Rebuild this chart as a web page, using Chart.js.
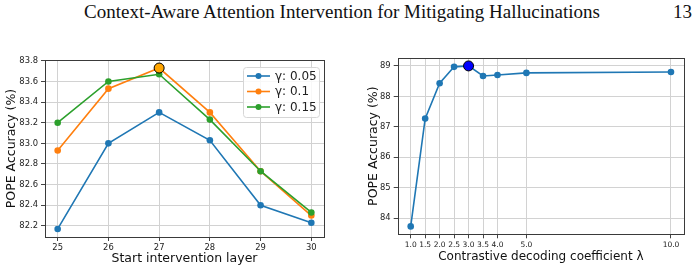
<!DOCTYPE html>
<html>
<head>
<meta charset="utf-8">
<script src="https://cdn.jsdelivr.net/npm/chart.js@4.4.0/dist/chart.umd.min.js"></script>
<style>
    html, body { margin: 0; padding: 0; background: #fff; }
    body { width: 697px; height: 271px; position: relative; overflow: hidden; }
    .header { position: absolute; top: 1px; font-family: "Liberation Serif", serif; font-size: 19px; color: #111; white-space: nowrap; }
    #title { left: 84px; }
    #page { left: 673px; }
    .plot { position: absolute; top: 45px; height: 226px; }
    #left_wrap { left: 0; width: 345px; }
    #right_wrap { left: 350px; width: 347px; }
</style>
</head>
<body>
<div class="header" id="title">Context-Aware Attention Intervention for Mitigating Hallucinations</div>
<div class="header" id="page">13</div>
<div class="plot" id="left_wrap"><canvas id="left_chart"></canvas></div>
<div class="plot" id="right_wrap"><canvas id="right_chart"></canvas></div>
<script>
// Left panel: start intervention layer vs accuracy
const layers = [25, 26, 27, 28, 29, 30];
const gamma005 = [82.17, 83.00, 83.30, 83.03, 82.40, 82.23];
const gamma010 = [82.93, 83.53, 83.73, 83.30, 82.73, 82.30];
const gamma015 = [83.20, 83.60, 83.67, 83.23, 82.73, 82.33];
const layerTicks = [25, 26, 27, 28, 29, 30];
const accTicksLeft = [82.2, 82.4, 82.6, 82.8, 83.0, 83.2, 83.4, 83.6, 83.8];

// Right panel: contrastive decoding coefficient vs accuracy
const lambdas = [1.0, 1.5, 2.0, 2.5, 3.0, 3.5, 4.0, 5.0, 10.0];
const lambdaAcc = [83.73, 87.27, 88.43, 88.97, 89.00, 88.67, 88.70, 88.77, 88.80];
const lambdaTicks = [1.0, 1.5, 2.0, 2.5, 3.0, 3.5, 4.0, 5.0, 10.0];
const accTicksRight = [84, 85, 86, 87, 88, 89];

const BLUE = '#1f77b4', ORANGE = '#ff7f0e', GREEN = '#2ca02c';
const FONT = '"DejaVu Sans", sans-serif';
const GRID = '#d2d2d2';

const pts = (xs, ys) => xs.map((x, i) => ({ x, y: ys[i] }));
const argmax = arr => arr.indexOf(Math.max(...arr));

// full box around the plot area, like matplotlib spines
const frame = {
    id: 'frame',
    afterDraw(chart) {
        const { ctx, chartArea: a } = chart;
        ctx.save();
        ctx.strokeStyle = '#3a3a3a';
        ctx.lineWidth = 1;
        ctx.strokeRect(Math.round(a.left) + 0.5, Math.round(a.top) + 0.5,
            Math.round(a.right - a.left), Math.round(a.bottom - a.top));
        ctx.restore();
    }
};

// legend box with line + marker, upper right
const boxLegend = {
    id: 'boxLegend',
    afterDraw(chart, args, opts) {
        if (!opts.show) return;
        const { ctx } = chart;
        const sets = chart.data.datasets.filter(d => d.inLegend);
        ctx.save();
        ctx.font = '12px ' + FONT;
        const x = opts.x, y = opts.y, w = opts.w, h = opts.h;
        ctx.fillStyle = 'rgba(255,255,255,0.85)';
        ctx.strokeStyle = '#d6d6d6';
        ctx.lineWidth = 1;
        ctx.beginPath();
        ctx.roundRect(x + 0.5, y + 0.5, w, h, 3);
        ctx.fill();
        ctx.stroke();
        sets.forEach((d, i) => {
            const cy = y + 9 + i * 15.5;
            ctx.strokeStyle = d.borderColor;
            ctx.lineWidth = 1.6;
            ctx.beginPath();
            ctx.moveTo(x + 4, cy);
            ctx.lineTo(x + 27, cy);
            ctx.stroke();
            ctx.fillStyle = d.borderColor;
            ctx.beginPath();
            ctx.arc(x + 15.5, cy, 3, 0, Math.PI * 2);
            ctx.fill();
            ctx.fillStyle = '#222';
            ctx.textBaseline = 'middle';
            ctx.fillText(d.label, x + 32, cy + 0.5);
        });
        ctx.restore();
    }
};

function line(label, xs, ys, color, order) {
    return {
        label, data: pts(xs, ys), borderColor: color, backgroundColor: color,
        borderWidth: 1.6, pointRadius: 3.3, pointHoverRadius: 3.3, pointBorderWidth: 0,
        order, inLegend: true
    };
}

function marker(x, y, fill) {
    return {
        data: [{ x, y }], type: 'scatter', showLine: false,
        backgroundColor: fill, borderColor: '#000', borderWidth: 1,
        pointRadius: 5, pointHoverRadius: 5, order: 0, inLegend: false
    };
}

function axes(o) {
    return {
        x: {
            type: 'linear', min: o.xmin, max: o.xmax,
            afterBuildTicks: s => { s.ticks = o.xTicks.map(v => ({ value: v })); },
            afterFit: s => { s.height = o.xh; },
            ticks: { font: { family: FONT, size: o.tickSize }, color: '#222', padding: 2, maxRotation: 0, autoSkip: false,
                callback: o.xFmt },
            grid: { color: GRID, lineWidth: 1, tickLength: 4, tickColor: '#444' },
            border: { display: false },
            title: { display: true, text: o.xLabel, font: { family: FONT, size: o.xLabelSize }, color: '#111', padding: 0 }
        },
        y: {
            type: 'linear', min: o.ymin, max: o.ymax,
            afterBuildTicks: s => { s.ticks = o.yTicks.map(v => ({ value: v })); },
            afterFit: s => { s.width = o.yw; },
            ticks: { font: { family: FONT, size: 8.4 }, color: '#222', padding: 3, callback: o.yFmt },
            grid: { color: GRID, lineWidth: 1, tickLength: 4, tickColor: '#444' },
            border: { display: false },
            title: { display: true, text: 'POPE Accuracy (%)', font: { family: FONT, size: 12.5 }, color: '#111', padding: { top: 2, bottom: 0 } }
        }
    };
}

const common = {
    responsive: true, maintainAspectRatio: false, animation: false,
    events: [],
    plugins: { legend: { display: false }, tooltip: { enabled: false } }
};

const topLeft = argmax(gamma010);
new Chart(document.getElementById('left_chart'), {
    type: 'line',
    data: {
        datasets: [
            line('γ: 0.05', layers, gamma005, BLUE, 3),
            line('γ: 0.1', layers, gamma010, ORANGE, 2),
            line('γ: 0.15', layers, gamma015, GREEN, 1),
            marker(layers[topLeft], gamma010[topLeft], '#ffa500')
        ]
    },
    options: {
        ...common,
        layout: { padding: { left: 2, right: 21, top: 15, bottom: 5 } },
        scales: axes({
            xmin: 24.75, xmax: 30.25, xTicks: layerTicks, xh: 29, tickSize: 8.4, xFmt: v => String(v),
            ymin: 82.092, ymax: 83.808, yTicks: accTicksLeft, yw: 43, yFmt: v => v.toFixed(1),
            xLabel: 'Start intervention layer', xLabelSize: 12.5
        }),
        plugins: { ...common.plugins, boxLegend: { show: true, x: 243, y: 22, w: 76, h: 50 } }
    },
    plugins: [frame, boxLegend]
});

const topRight = argmax(lambdaAcc);
new Chart(document.getElementById('right_chart'), {
    type: 'line',
    data: {
        datasets: [
            line('λ', lambdas, lambdaAcc, BLUE, 1),
            marker(lambdas[topRight], lambdaAcc[topRight], '#0000ff')
        ]
    },
    options: {
        ...common,
        layout: { padding: { left: 14, right: 13, top: 13, bottom: 7 } },
        scales: axes({
            xmin: 0.55, xmax: 10.45, xTicks: lambdaTicks, xh: 29.7, tickSize: 7.5, xFmt: v => v.toFixed(1),
            ymin: 83.47, ymax: 89.26, yTicks: accTicksRight, yw: 33.7, yFmt: v => String(v),
            xLabel: 'Contrastive decoding coefficient λ', xLabelSize: 12
        }),
        plugins: { ...common.plugins, boxLegend: { show: false } }
    },
    plugins: [frame, boxLegend]
});
</script>
</body>
</html>
